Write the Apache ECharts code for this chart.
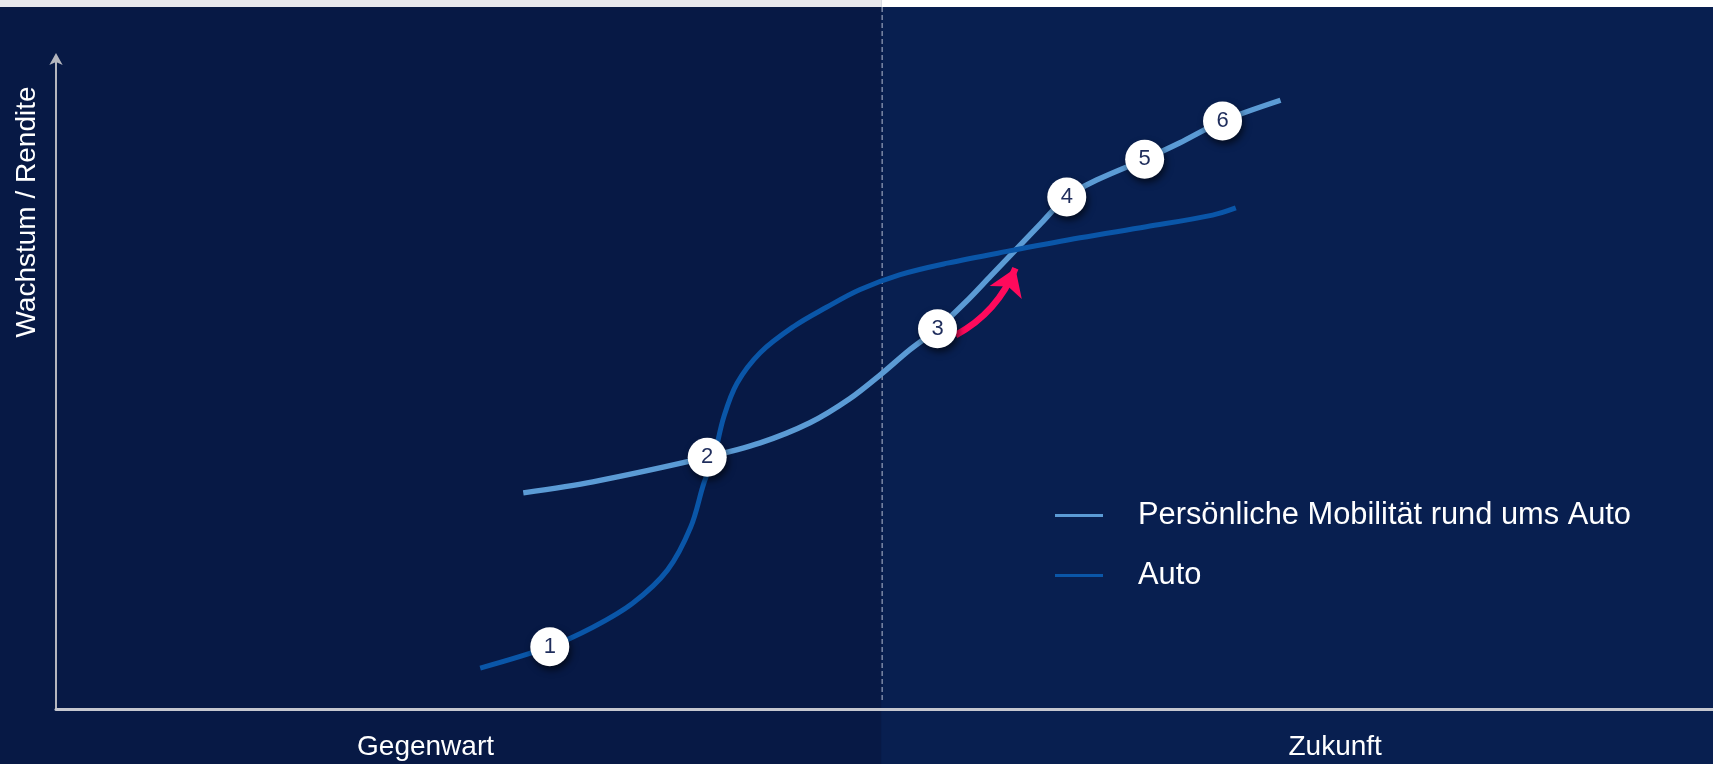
<!DOCTYPE html>
<html>
<head>
<meta charset="utf-8">
<script src="https://cdn.jsdelivr.net/npm/echarts@6/dist/echarts.min.js"></script>
<style>
  html, body { margin: 0; padding: 0; background: #071945; }
  #chart-container { width: 1713px; height: 764px; }
</style>
</head>
<body>
<div id="chart-container"></div>
<script>
var dom = document.getElementById('chart-container');
var myChart = echarts.init(dom, null, { renderer: 'canvas' });

// x axis labels (two phases) and where they sit on the 0..100 scale
const xLabels = ['Gegenwart', 'Zukunft'];
const xLabelPos = [22.3, 77.2];
const dividerX = 49.8;   // Gegenwart | Zukunft border

// curves: [x, y] on a 0..100 scale
const mobilityData = [
  [28.2, 33.3], [32.4, 35.0], [39.3, 38.8], [42.5, 41.0], [45.5, 44.1],
  [47.9, 47.8], [49.8, 51.6], [51.5, 55.3], [53.2, 58.6], [54.9, 62.7],
  [56.4, 66.7], [57.9, 70.7], [59.4, 74.7], [61.0, 78.9], [62.8, 81.5],
  [65.7, 84.7], [67.8, 87.2], [70.4, 90.6], [73.9, 93.8]
];
const autoData = [
  [25.6, 6.3], [29.8, 9.6], [32.4, 12.6], [34.8, 16.3], [36.9, 21.4],
  [38.3, 28.0], [39.1, 34.8], [39.7, 38.8], [40.3, 45.0], [41.1, 50.2],
  [42.5, 54.9], [44.5, 58.9], [46.5, 61.9], [48.5, 64.6], [50.9, 66.9],
  [53.8, 68.7], [57.8, 70.7], [61.8, 72.6], [65.8, 74.3], [69.8, 76.1],
  [71.2, 77.2]
];

// numbered steps
const stepNames = ['1', '2', '3', '4', '5', '6'];
const stepPoints = [
  [29.8, 9.6], [39.3, 38.8], [53.2, 58.6], [61.0, 78.9], [65.7, 84.7], [70.4, 90.6]
];

// pink arrow from step 3
const arrowFrom = [54.3, 57.6];
const arrowTo = [57.9, 67.9];

const seriesNames = ['Persönliche Mobilität rund ums Auto', 'Auto'];
const fontName = '"Liberation Sans", Arial, sans-serif';

var option = {
  backgroundColor: '#071945',
  animation: false,
  grid: { left: 56, right: 0, top: 60, bottom: 55 },
  legend: {
    orient: 'vertical',
    left: 1050,
    top: 495,
    itemGap: 29,
    itemWidth: 48,
    itemHeight: 3,
    icon: 'rect',
    data: seriesNames,
    textStyle: {
      color: '#ffffff',
      fontSize: 30.8,
      lineHeight: 31,
      fontFamily: fontName,
      padding: [0, 0, 0, 30]
    }
  },
  xAxis: {
    type: 'value',
    min: 0,
    max: 100,
    splitLine: { show: false },
    axisTick: { show: false },
    axisLine: { show: true, lineStyle: { color: '#c5c7cf', width: 3 } },
    axisLabel: {
      customValues: xLabelPos,
      margin: 24,
      color: '#ffffff',
      fontSize: 28,
      fontFamily: fontName,
      formatter: function (v) {
        var i = xLabelPos.indexOf(v);
        return i >= 0 ? xLabels[i] : '';
      }
    }
  },
  yAxis: {
    type: 'value',
    min: 0,
    max: 100,
    splitLine: { show: false },
    axisTick: { show: false },
    axisLabel: { show: false },
    axisLine: {
      show: true,
      symbol: ['none', 'arrow'],
      symbolSize: [10, 12],
      symbolOffset: [0, 7],
      lineStyle: { color: '#b4b6be', width: 2 }
    }
  },
  series: [
    {
      name: seriesNames[0],
      type: 'line',
      data: mobilityData,
      smooth: 0.3,
      showSymbol: false,
      color: '#5b9bd5',
      lineStyle: { color: '#5b9bd5', width: 5.5 },
      z: 2
    },
    {
      name: seriesNames[1],
      type: 'line',
      data: autoData,
      smooth: 0.35,
      showSymbol: false,
      color: '#0a56a8',
      lineStyle: { color: '#0a56a8', width: 5 },
      z: 3
    },
    {
      type: 'lines',
      coordinateSystem: 'cartesian2d',
      symbol: ['none', 'arrow'],
      symbolSize: 26,
      lineStyle: { color: '#ff0a5c', width: 6.5, curveness: -0.18, opacity: 1 },
      data: [{ coords: [arrowFrom, arrowTo] }],
      z: 4
    },
    {
      type: 'scatter',
      symbol: 'circle',
      symbolSize: 39,
      data: stepPoints.map(function (p, i) { return { name: stepNames[i], value: p }; }),
      itemStyle: {
        color: '#ffffff',
        opacity: 1,
        shadowColor: 'rgba(0,0,0,0.6)',
        shadowBlur: 7,
        shadowOffsetX: 2,
        shadowOffsetY: 4
      },
      label: {
        show: true,
        position: 'inside',
        formatter: '{b}',
        color: '#1f2d5c',
        fontSize: 22,
        fontFamily: fontName
      },
      z: 5
    }
  ]
};
myChart.setOption(option);

// background panels, divider and y title placed from the axis scale
var px = myChart.convertToPixel({ gridIndex: 0 }, [dividerX, 0]);
var W = myChart.getWidth();
var H = myChart.getHeight();
myChart.setOption({
  graphic: [
    { type: 'rect', z: -10, silent: true, shape: { x: px[0], y: 0, width: W - px[0], height: H }, style: { fill: '#081f50' } },
    { type: 'rect', z: -10, silent: true, shape: { x: 0, y: 0, width: px[0], height: 7 }, style: { fill: '#e8e9ed' } },
    { type: 'rect', z: -10, silent: true, shape: { x: px[0], y: 0, width: W - px[0], height: 7 }, style: { fill: '#ffffff' } },
    { type: 'line', z: -5, silent: true, shape: { x1: px[0] + 1, y1: 7, x2: px[0] + 1, y2: px[1] - 9 },
      style: { stroke: '#7a86a4', lineWidth: 1.5, lineDash: [5, 3] } },
    { type: 'text', silent: true, x: 27, y: 212, rotation: Math.PI / 2,
      style: { text: 'Wachstum / Rendite', fill: '#ffffff', fontSize: 28, fontFamily: fontName,
        align: 'center', verticalAlign: 'middle' } }
  ]
});

window.addEventListener('resize', myChart.resize);
</script>
</body>
</html>
